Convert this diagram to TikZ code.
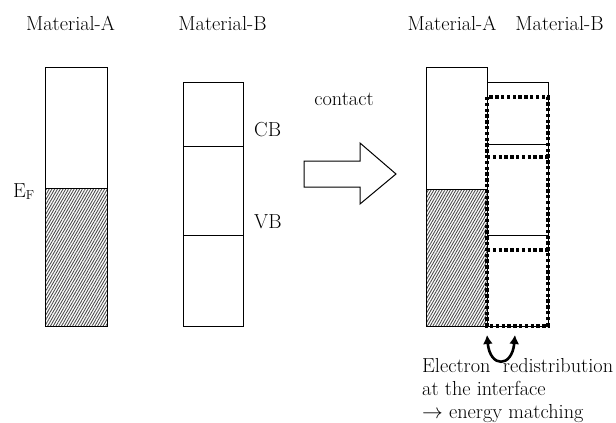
\documentclass[tikz,border=0pt]{standalone}
\usetikzlibrary{patterns.meta,arrows.meta}
\begin{document}
\begin{tikzpicture}[x=1pt,y=-1pt,
  lbl/.style={font=\fontsize{20.3}{24}\selectfont, inner sep=0pt, anchor=base},
  box/.style={draw=black, line width=1pt},
  hatch/.style={pattern={Lines[angle=60,distance=2.4pt,line width=0.9pt]}, pattern color=black!70},
  dotbox/.style={draw=black, line width=3.4pt, dash pattern=on 3.4pt off 2.4pt},
  bigarrow/.style={draw=black, line width=1pt, fill=white}]
\useasboundingbox (0,0) rectangle (616,423);
% labels
\node[lbl] (la) at (70.5,30) {Material-A};
\node[lbl] (lb) at (222.5,30) {Material-B};
\node[lbl] (ra) at (452,30) {Material-A};
\node[lbl] (rb) at (559.5,30) {Material-B};
\node[lbl, anchor=base west] (ef) at (13,197) {E\raisebox{-2pt}{\fontsize{13}{13}\selectfont F}};
\node[lbl, anchor=base west] (cb) at (254,136) {CB};
\node[lbl, anchor=base west] (vb) at (254,228) {VB};
\node[lbl] (ct) at (344,105) {contact};
% left material A
\fill[hatch] (45,188) rectangle (107,326);
\draw[box] (45,67) rectangle (107,326);
\draw[box] (45,188) -- (107,188);
% left material B
\draw[box] (183,82) rectangle (243,326);
\draw[box] (183,146) -- (243,146);
\draw[box] (183,235) -- (243,235);
% big arrow
\draw[bigarrow] (304,161) -- (360,161) -- (360,143) -- (396,174) -- (360,204) -- (360,187) -- (304,187) -- cycle;
% right material A
\fill[hatch] (426,189) rectangle (487,326);
\draw[box] (426,67) rectangle (487,326);
\draw[box] (426,189) -- (487,189);
% right material B
\draw[box] (487,82) rectangle (548,326);
\draw[box] (487,144) -- (548,144);
\draw[box] (487,235) -- (548,235);
\draw[dotbox] (487,97) rectangle (548,326);
\draw[dotbox] (487,157) -- (548,157);
\draw[dotbox] (487,250) -- (548,250);
% curved arrow
\coordinate (c1) at (487,335);
\coordinate (c2) at (515,335);
\draw[line width=2.6pt, {Latex[length=9pt,width=10pt]}-{Latex[length=9pt,width=10pt]}] (c1) .. controls (490,368) and (512,368) .. (c2);
% bottom text
\node[lbl, anchor=base west] (t1) at (422,372) {Electron\ \ redistribution};
\node[lbl, anchor=base west] (t2) at (422,395) {at the interface};
\node[lbl, anchor=base west] (t3) at (422,418) {$\rightarrow$ energy matching};
\end{tikzpicture}
\end{document}
